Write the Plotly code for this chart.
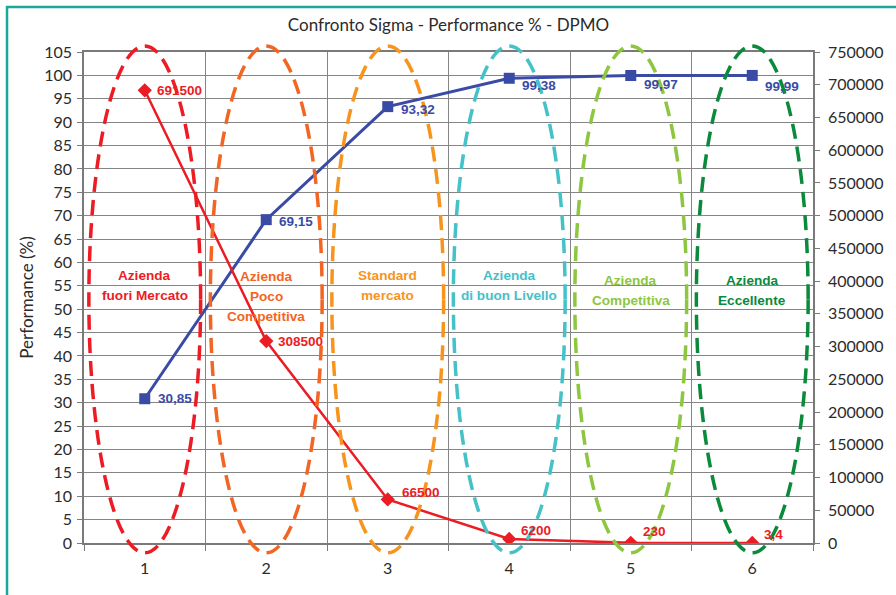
import plotly.graph_objects as go

# --- data -------------------------------------------------------------
sigma = [1, 2, 3, 4, 5, 6]
performance = [30.85, 69.15, 93.32, 99.38, 99.97, 99.99]   # Performance (%)
dpmo = [691500, 308500, 66500, 6200, 230, 3.4]            # defects per million
zone_labels = [
    ["Azienda", "fuori Mercato"],
    ["Azienda", "Poco", "Competitiva"],
    ["Standard", "mercato"],
    ["Azienda", "di buon Livello"],
    ["Azienda", "Competitiva"],
    ["Azienda", "Eccellente"],
]
left_ticks = list(range(0, 106, 5))
right_ticks = list(range(0, 750001, 50000))

# --- styling ----------------------------------------------------------
zone_colors = ["#ED1C24", "#F26522", "#F7941D", "#45C1C8", "#8DC63F", "#0B8A3B"]
zone_text_y = [55.0, 52.8, 55.0, 55.0, 53.9, 53.9]   # centre of each zone caption
BLUE = "#3A4BA6"
RED = "#EC1C24"
GRID = "#858585"
AXIS = "#7a7a7a"
FONT = "Lato"
TXT = "Liberation Sans"

perf_offsets = [(11, 0), (11, -2), (11, -3), (11, -7), (11, -9), (11, -11)]
dpmo_offsets = [(10, 0), (10, 0), (12, 7), (10, 8), (10, 11), (10, 9)]

X_RANGE = [0.5, 6.5]
Y_LEFT_MAX = 105
Y_RIGHT_MAX = 750000

# ellipse extent: half-width in categories, vertical span in left-axis units
ELL_HALF_W = 0.46
ELL_Y = (-2.1, 106.3)


def fmt(v):
    if float(v).is_integer():
        return str(int(v))
    return f"{v:g}".replace(".", ",")


def fmt2(v):
    return f"{v:.2f}".replace(".", ",")


def xdom(x):
    return (x - X_RANGE[0]) / (X_RANGE[1] - X_RANGE[0])


def ydom(y):
    return y / Y_LEFT_MAX


fig = go.Figure()

fig.add_trace(go.Scatter(
    x=sigma, y=performance, mode="lines+markers",
    line=dict(color=BLUE, width=3),
    marker=dict(symbol="square", size=11, color=BLUE),
    yaxis="y", hoverinfo="x+y",
))
fig.add_trace(go.Scatter(
    x=sigma, y=dpmo, mode="lines+markers",
    line=dict(color=RED, width=2.5),
    marker=dict(symbol="diamond", size=11, color=RED),
    yaxis="y2", hoverinfo="x+y",
))

annotations = []
for x, v, (dx, dy) in zip(sigma, performance, perf_offsets):
    annotations.append(dict(
        x=x, y=v, xref="x", yref="y", text=fmt2(v), showarrow=False,
        xanchor="left", yanchor="middle", xshift=dx, yshift=dy,
        font=dict(family=TXT, size=13.5, color=BLUE, weight="bold"),
    ))
for x, v, (dx, dy) in zip(sigma, dpmo, dpmo_offsets):
    annotations.append(dict(
        x=x, y=v, xref="x", yref="y2", text=fmt(v), showarrow=False,
        xanchor="left", yanchor="middle", xshift=dx, yshift=dy,
        font=dict(family=TXT, size=13.5, color=RED, weight="bold"),
    ))

# zone captions, one annotation per line
for x, lines, col, yc in zip(sigma, zone_labels, zone_colors, zone_text_y):
    n = len(lines)
    for i, line in enumerate(lines):
        annotations.append(dict(
            x=x, y=yc, xref="x", yref="y", text=line, showarrow=False,
            xanchor="center", yanchor="middle",
            yshift=((n - 1) / 2 - i) * 20,
            font=dict(family=TXT, size=13.6, color=col, weight="bold"),
        ))

shapes = []
# dashed ellipses around each sigma level (domain refs so they are not clipped)
for x, col in zip(sigma, zone_colors):
    shapes.append(dict(
        type="circle", xref="x domain", yref="y domain",
        x0=xdom(x - ELL_HALF_W), x1=xdom(x + ELL_HALF_W),
        y0=ydom(ELL_Y[0]), y1=ydom(ELL_Y[1]),
        line=dict(color=col, width=3.5, dash="15px,8px"),
        layer="above",
    ))
# outer frame
shapes.append(dict(
    type="rect", xref="paper", yref="paper",
    x0=-0.1056, x1=1.13, y0=-0.13, y1=1.0916,
    line=dict(color="#1BA89B", width=2.5), layer="below",
))

fig.update_layout(
    width=896, height=595,
    margin=dict(l=84, r=83, t=52, b=52),
    paper_bgcolor="white", plot_bgcolor="white",
    showlegend=False,
    font=dict(family=FONT, size=16, color="#2b2b2b"),
    title=dict(
        text="Confronto Sigma - Performance % - DPMO",
        x=0.5, xref="paper", xanchor="center",
        y=1 - 25 / 595, yanchor="middle",
        font=dict(family=FONT, size=17, color="#2b2b2b"),
    ),
    xaxis=dict(
        range=X_RANGE, tickvals=sigma, ticktext=[str(s) for s in sigma],
        ticks="", showgrid=False, zeroline=False,
        showline=True, linecolor=AXIS, linewidth=1.5, mirror=True,
        minor=dict(tickvals=[0.5 + i for i in range(7)], showgrid=True,
                   gridcolor=GRID, gridwidth=1.3, ticks="outside",
                   ticklen=6, tickcolor=AXIS, tickwidth=1.3),
        tickfont=dict(size=16), ticklabelstandoff=10,
        fixedrange=True,
    ),
    yaxis=dict(
        range=[0, Y_LEFT_MAX], tickvals=left_ticks,
        showgrid=True, gridcolor=GRID, gridwidth=1.3,
        zeroline=False, showline=True, linecolor=AXIS, linewidth=1.5,
        ticks="outside", ticklen=5, tickcolor=AXIS, tickwidth=1.3,
        title=dict(text="Performance (%)", font=dict(size=17), standoff=6),
        tickfont=dict(size=16), ticklabelstandoff=2,
    ),
    yaxis2=dict(
        range=[0, Y_RIGHT_MAX], tickvals=right_ticks, tickformat="d",
        overlaying="y", side="right", anchor="x",
        showgrid=False, zeroline=False,
        showline=True, linecolor=AXIS, linewidth=1.5,
        ticks="outside", ticklen=5, tickcolor=AXIS, tickwidth=1.3,
        tickfont=dict(size=16), ticklabelstandoff=5,
    ),
    annotations=annotations,
    shapes=shapes,
)

fig.write_html("out.html")
